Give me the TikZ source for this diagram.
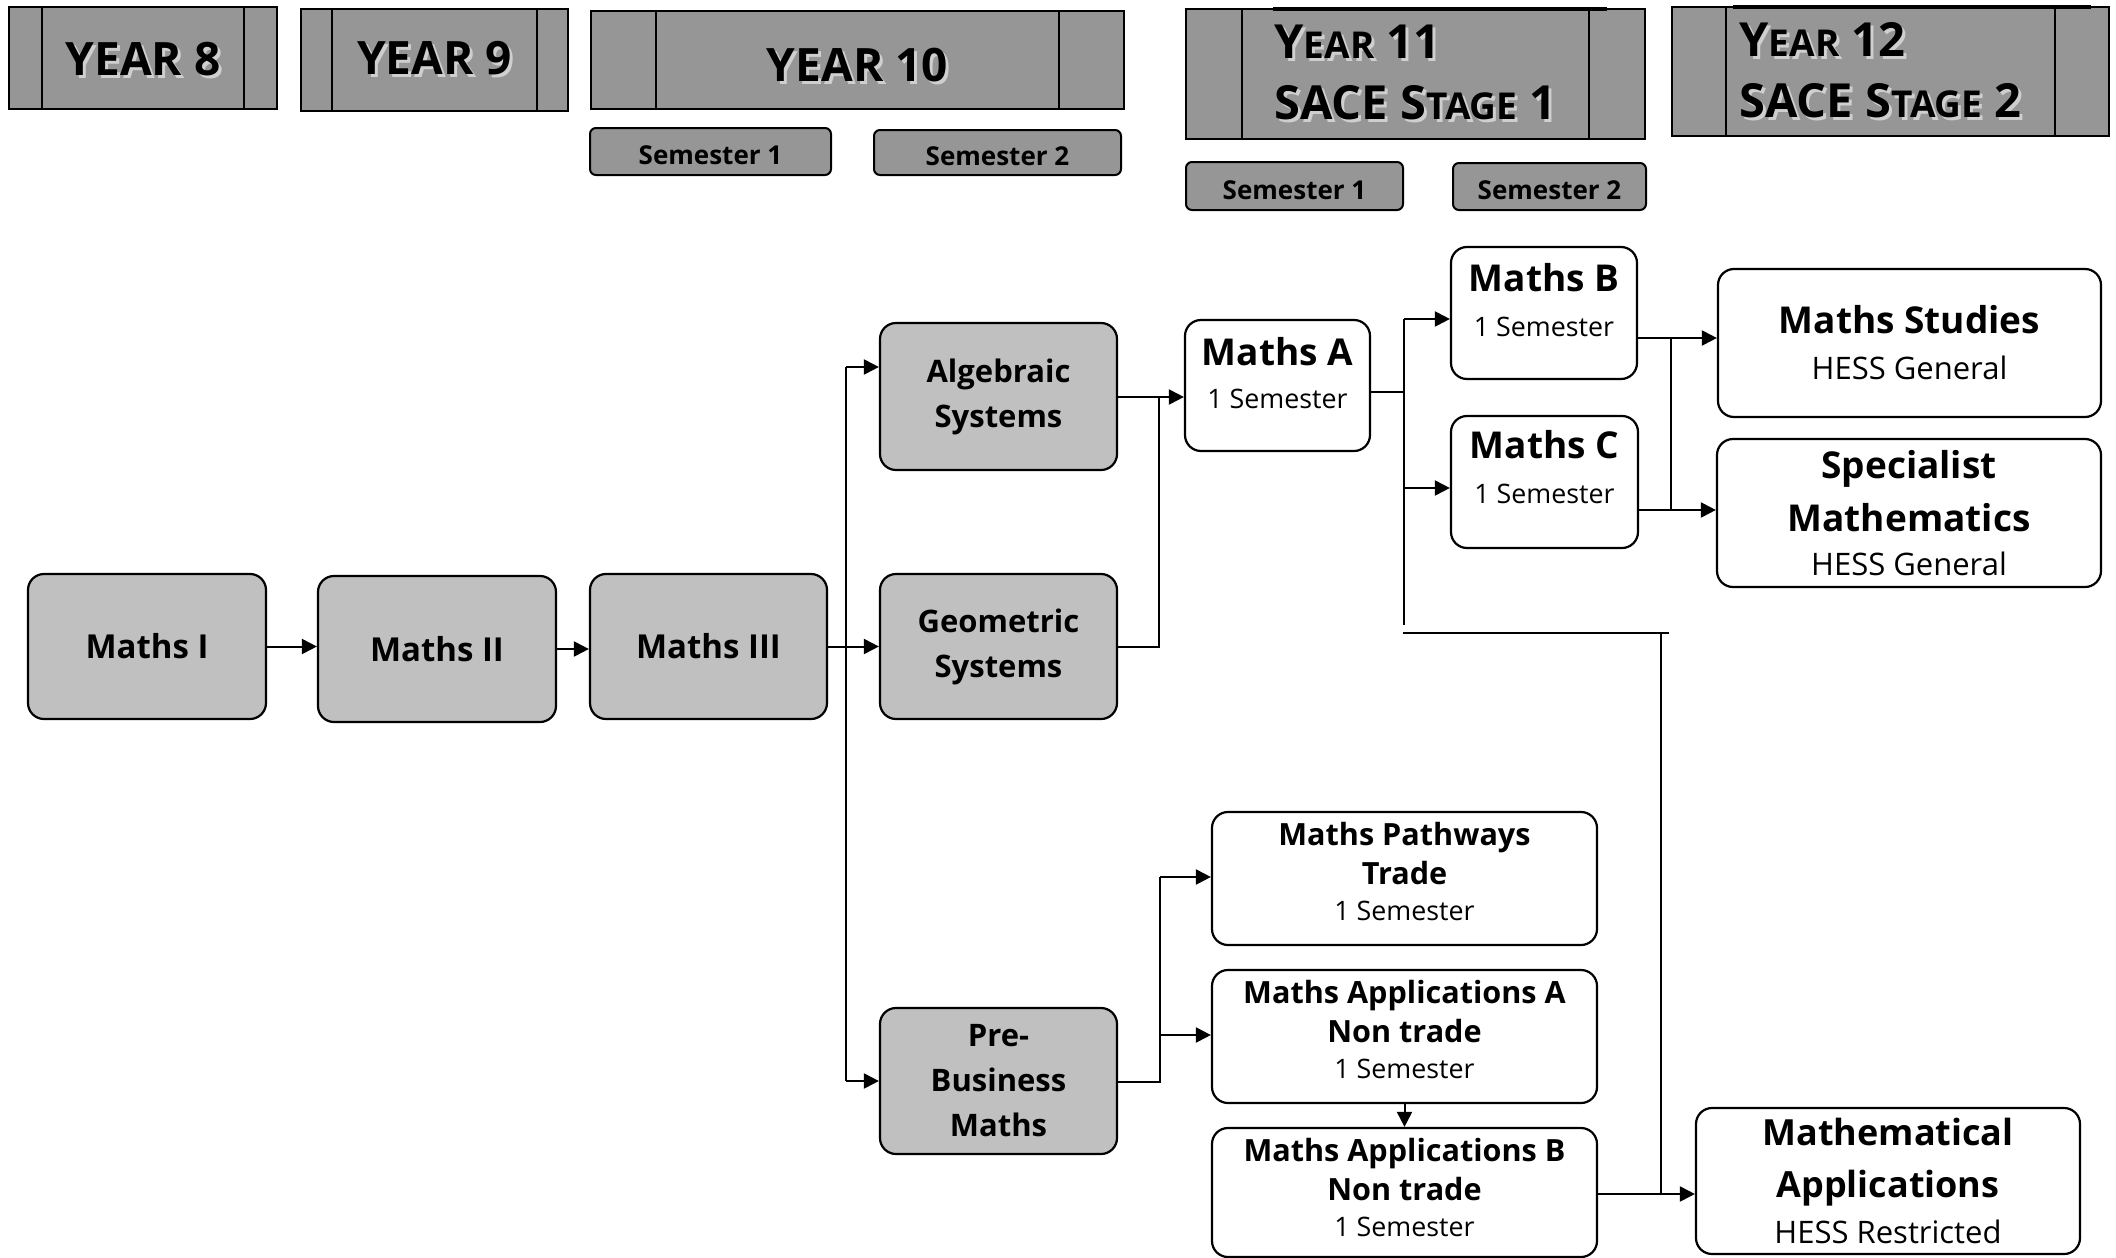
\documentclass[tikz,border=0pt]{standalone}
\usepackage{fontspec}
\setmainfont{Open Sans}
\usetikzlibrary{arrows.meta}

\definecolor{hdrfill}{HTML}{969696}
\definecolor{boxfill}{HTML}{C0C0C0}
\definecolor{yshade}{HTML}{CFCFCF}

\newcommand\fsz[2]{\fontsize{#1}{#2}\selectfont}
% heading text with a soft drop shadow
\newcommand\shtext[1]{\makebox[0pt][l]{\kern1.5pt\raisebox{-1.5pt}{\textcolor{yshade}{#1}}}#1}
% small capitals imitated by a smaller size
\newcommand\smallcap[1]{{\fsz{18.5}{20}#1}}
\newcommand\ttl[1]{{\bfseries #1}}

\begin{document}
\begin{tikzpicture}[x=0.5pt,y=-0.5pt,
  % place a node by its left, top, right and bottom edges
  span/.style args={#1,#2,#3,#4}{at={({(#1+#3)/2},{(#2+#4)/2})},
    minimum width={(#3-#1)*0.5pt}, minimum height={(#4-#2)*0.5pt}},
  hdr/.style={draw, line width=1pt, fill=hdrfill, inner sep=0pt, align=center,
    font=\bfseries\fsz{23}{30},
    path picture={\draw[line width=0.9pt]
      ([xshift=#1]path picture bounding box.north west) -- ([xshift=#1]path picture bounding box.south west)
      ([xshift=-#1]path picture bounding box.north east) -- ([xshift=-#1]path picture bounding box.south east);}},
  sem/.style={draw, line width=1pt, fill=hdrfill, rounded corners=3pt, inner sep=0pt,
    font=\bfseries\fsz{13}{15}, text height=13.5pt},
  course/.style={draw, line width=1.1pt, rounded corners=8pt, inner sep=0pt, align=center},
  gbox/.style={course, fill=boxfill, font=\bfseries\fsz{15.5}{22.5}},
  wbox/.style={course, fill=white},
  link/.style={line width=1pt},
  arr/.style={link, -{Triangle[length=7.5pt,width=7.5pt]}},
]
\useasboundingbox (0,0) rectangle (2116,1258);

% ---- year headings ----
\node[hdr=16.5pt, span={9,7,277,109}, text height=19pt] (y8) {\shtext{YEAR 8}};
\node[hdr=15.5pt, span={301,9,568,111}] (y9) {\shtext{YEAR 9}};
\node[hdr=32.5pt, span={591,11,1124,109}, text height=23.5pt] (y10) {\shtext{YEAR 10}};
\node[hdr=28pt, span={1186,9,1645,139}, align=left, font=\bfseries\fsz{23.5}{30.5}] (y11)
  {\shtext{Y\smallcap{EAR} 11}\\ \shtext{SACE S\smallcap{TAGE} 1}};
\node[hdr=27pt, span={1672,7,2109,136}, align=left, font=\bfseries\fsz{23.5}{30.5}] (y12)
  {\shtext{Y\smallcap{EAR} 12}\\ \shtext{SACE S\smallcap{TAGE} 2}\hspace*{10pt}};
\draw[line width=2pt] (1273,9) -- (1607,9);
\draw[line width=2pt] (1733,7) -- (2091,7);

% ---- semester tabs ----
\node[sem, span={590,128,831,175}] (s10a) {Semester 1};
\node[sem, span={874,130,1121,175}] (s10b) {Semester 2};
\node[sem, span={1186,162,1403,210}] (s11a) {Semester 1};
\node[sem, span={1453,163,1646,210}] (s11b) {Semester 2};

% ---- middle school courses ----
\node[gbox, span={28,574,266,719}, font=\bfseries\fsz{16.5}{22.5}] (m1) {Maths I};
\node[gbox, span={318,576,556,722}, font=\bfseries\fsz{16.5}{22.5}] (m2) {Maths II};
\node[gbox, span={590,574,827,719}, font=\bfseries\fsz{16.5}{22.5}] (m3) {Maths III};
\node[gbox, span={880,323,1117,470}] (alg) {Algebraic\\Systems};
\node[gbox, span={880,574,1117,719}] (geo) {Geometric\\Systems};
\node[gbox, span={880,1008,1117,1154}] (pre) {Pre-\\Business\\Maths};

% ---- stage 1 courses ----
\node[wbox, span={1185,320,1370,451}, font=\fsz{13.4}{21.5}, text depth=13pt] (ma)
  {\ttl{\fsz{18.5}{21}Maths A}\\1 Semester};
\node[wbox, span={1451,247,1637,379}, font=\fsz{13.4}{22.5}, text depth=13pt] (mb)
  {\ttl{\fsz{18.5}{21}Maths B}\\1 Semester};
\node[wbox, span={1451,416,1638,548}, font=\fsz{13.4}{22.5}, text depth=15pt] (mc)
  {\ttl{\fsz{18.5}{21}Maths C}\\1 Semester};
\node[wbox, span={1212,812,1597,945}, font=\fsz{13.4}{18}, text depth=7.5pt] (path)
  {\ttl{\fsz{15.3}{18}Maths Pathways}\\[1.5pt]\ttl{\fsz{15.3}{18}Trade}\\1 Semester};
\node[wbox, span={1212,970,1597,1103}, font=\fsz{13.4}{18}, text depth=7.5pt] (appa)
  {\ttl{\fsz{15.3}{18}Maths Applications A}\\[1.5pt]\ttl{\fsz{15.3}{18}Non trade}\\1 Semester};
\node[wbox, span={1212,1128,1597,1257}, font=\fsz{13.4}{18}, text depth=5pt] (appb)
  {\ttl{\fsz{15.3}{18}Maths Applications B}\\[1.5pt]\ttl{\fsz{15.3}{18}Non trade}\\1 Semester};

% ---- stage 2 courses ----
\node[wbox, span={1718,269,2101,417}, font=\fsz{15.5}{23}] (ms)
  {\ttl{\fsz{18.5}{21}Maths Studies}\\HESS General};
\node[wbox, span={1717,439,2101,587}, font=\fsz{15.5}{22}] (sp)
  {\ttl{\fsz{18.5}{21}Specialist}\\[4.5pt]\ttl{\fsz{18.5}{21}Mathematics}\\HESS General};
\node[wbox, span={1696,1108,2080,1254}, font=\fsz{15.5}{23}] (mapp)
  {\ttl{\fsz{18}{21}Mathematical}\\[3pt]\ttl{\fsz{18}{21}Applications}\\HESS Restricted};

% ---- junction points ----
\coordinate (t1) at (846,367);
\coordinate (t2) at (846,1081);
\coordinate (j1) at (1159,397);
\coordinate (ja) at (1404,392);
\coordinate (jb) at (1404,319);
\coordinate (jc) at (1404,488);
\coordinate (jd) at (1404,625);
\coordinate (h1) at (1403,633);
\coordinate (h2) at (1669,633);
\coordinate (d1) at (1661,633);
\coordinate (d2) at (1661,1194);
\coordinate (k1) at (1671,338);
\coordinate (k2) at (1671,510);
\coordinate (p1) at (1160,1082);
\coordinate (p2) at (1160,877);
\coordinate (p3) at (1160,1035);

% ---- connectors ----
\draw[arr] (m1.east) -- (m1.east -| m2.west);
\draw[arr] (m2.east) -- (m2.east -| m3.west);
\draw[arr] (m3.east) -- (m3.east -| geo.west);
\draw[link] (t1) -- (t2);
\draw[arr] (t1) -- (t1 -| alg.west);
\draw[arr] (t2) -- (t2 -| pre.west);

\draw[arr] (alg.east |- j1) -- (j1 -| ma.west);
\draw[link] (geo.east) -| (j1);

\draw[link] (ma.east |- ja) -- (ja);
\draw[link] (jb) -- (jd);
\draw[arr] (jb) -- (jb -| mb.west);
\draw[arr] (jc) -- (jc -| mc.west);
\draw[link] (h1) -- (h2);
\draw[link] (d1) -- (d2);
\draw[arr] (appb.east |- d2) -- (d2 -| mapp.west);

\draw[arr] (mb.east |- k1) -- (k1 -| ms.west);
\draw[arr] (mc.east |- k2) -- (k2 -| sp.west);
\draw[link] (k1) -- (k2);

\draw[link] (pre.east |- p1) -- (p1) -- (p2);
\draw[arr] (p2) -- (p2 -| path.west);
\draw[arr] (p3) -- (p3 -| appa.west);
\draw[arr] (appa.south) -- (appb.north);
\end{tikzpicture}
\end{document}
